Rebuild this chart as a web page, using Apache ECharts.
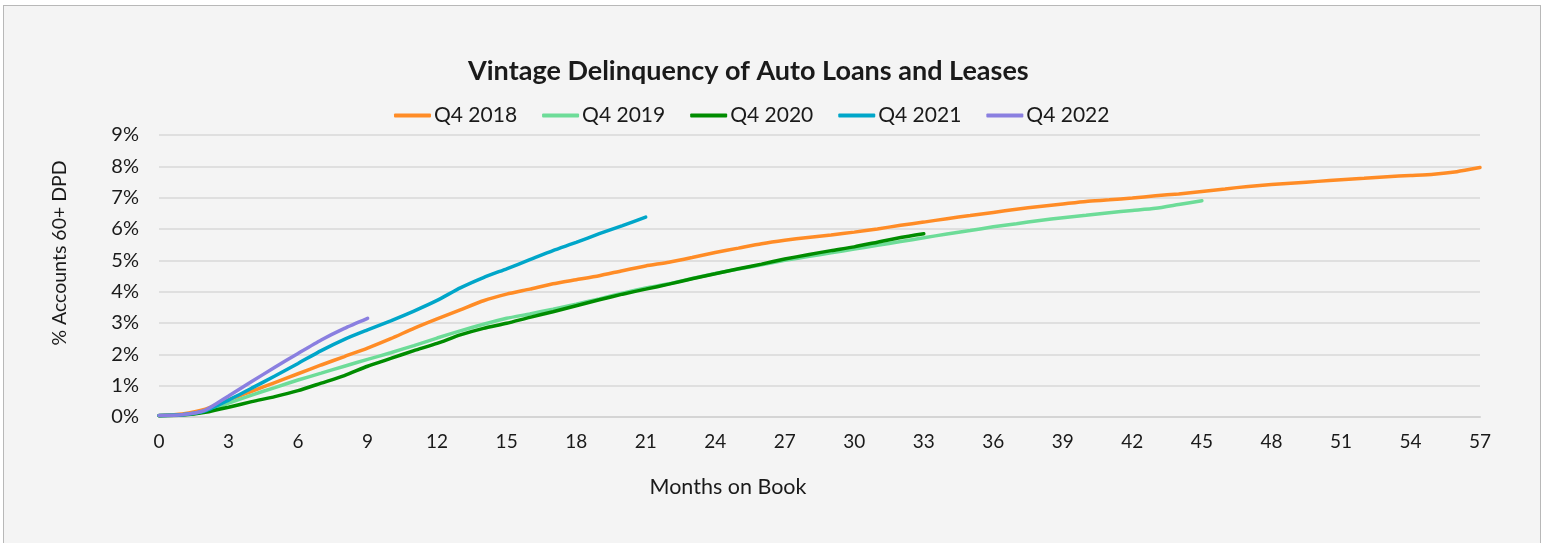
<!DOCTYPE html>
<html>
<head>
<meta charset="utf-8">
<script src="https://cdn.jsdelivr.net/npm/echarts@6/dist/echarts.min.js"></script>
<style>
  html, body { margin: 0; padding: 0; background: #ffffff; }
  #frame { position: absolute; left: 3px; top: 5px; width: 1538px; height: 545px; border: 1px solid #b8b8b8; background: #f4f4f4; box-sizing: border-box; }
  #chart { position: absolute; left: 0; top: 0; width: 1546px; height: 543px; }
</style>
</head>
<body>
<div id="frame"></div>
<div id="chart"></div>
<script>
const titleText = "Vintage Delinquency of Auto Loans and Leases";
const yAxisTitle = "% Accounts 60+ DPD";
const xAxisTitle = "Months on Book";
const seriesNames = ["Q4 2018", "Q4 2019", "Q4 2020", "Q4 2021", "Q4 2022"];
const seriesColors = ["#FF8C26", "#6DDC98", "#008C00", "#00A6C9", "#8A7FE0"];

// Values in % by month on book (index = month)
const q4_2018 = [0.05, 0.10, 0.25, 0.55, 0.82, 1.10, 1.38, 1.66, 1.93, 2.20, 2.50, 2.83, 3.13, 3.42, 3.71, 3.92, 4.08, 4.25, 4.38, 4.51, 4.67, 4.82, 4.94, 5.09, 5.25, 5.39, 5.53, 5.64, 5.73, 5.81, 5.90, 6.00, 6.12, 6.22, 6.33, 6.43, 6.53, 6.63, 6.72, 6.80, 6.88, 6.93, 6.99, 7.06, 7.12, 7.20, 7.28, 7.36, 7.42, 7.47, 7.52, 7.57, 7.62, 7.67, 7.71, 7.75, 7.83, 7.96];
const q4_2019 = [0.05, 0.07, 0.18, 0.44, 0.70, 0.94, 1.18, 1.40, 1.62, 1.84, 2.05, 2.28, 2.52, 2.75, 2.96, 3.15, 3.29, 3.44, 3.60, 3.77, 3.95, 4.12, 4.25, 4.42, 4.58, 4.72, 4.86, 5.00, 5.12, 5.24, 5.36, 5.48, 5.60, 5.72, 5.84, 5.95, 6.07, 6.17, 6.27, 6.36, 6.44, 6.52, 6.59, 6.66, 6.78, 6.90];
const q4_2020 = [0.04, 0.06, 0.15, 0.31, 0.49, 0.65, 0.84, 1.08, 1.32, 1.62, 1.87, 2.12, 2.35, 2.62, 2.83, 2.99, 3.18, 3.36, 3.55, 3.74, 3.92, 4.08, 4.24, 4.41, 4.57, 4.73, 4.88, 5.04, 5.18, 5.31, 5.43, 5.58, 5.73, 5.85];
const q4_2021 = [0.05, 0.07, 0.20, 0.54, 0.92, 1.31, 1.71, 2.12, 2.48, 2.78, 3.07, 3.38, 3.72, 4.12, 4.45, 4.73, 5.02, 5.31, 5.57, 5.85, 6.11, 6.38];
const q4_2022 = [0.05, 0.07, 0.22, 0.67, 1.13, 1.59, 2.03, 2.46, 2.83, 3.15];

const allSeries = [q4_2018, q4_2019, q4_2020, q4_2021, q4_2022];
const FONT = "Lato, 'Noto Sans', sans-serif";
const TEXT = "#1a1a1a";

const chart = echarts.init(document.getElementById('chart'), null, { renderer: 'canvas' });
chart.setOption({
  backgroundColor: 'transparent',
  animation: false,
  title: {
    text: titleText, left: 463, top: 53,
    textStyle: { fontFamily: FONT, fontSize: 27, fontWeight: 'bold', color: TEXT }
  },
  legend: {
    top: 100, left: 389,
    data: seriesNames,
    icon: 'roundRect', itemWidth: 37, itemHeight: 4, itemGap: 25,
    textStyle: { fontFamily: FONT, fontSize: 21, color: TEXT, padding: [0, 0, 0, -2] }
  },
  grid: { left: 159, right: 66, top: 135, bottom: 126, containLabel: false },
  xAxis: {
    type: 'value', min: 0, max: 57, interval: 3,
    axisLine: { show: true, lineStyle: { color: '#d4d4d4', width: 2 } },
    axisTick: { show: false },
    splitLine: { show: false },
    axisLabel: { fontFamily: FONT, fontSize: 19, color: TEXT, margin: 15 }
  },
  yAxis: {
    type: 'value', min: 0, max: 9, interval: 1,
    axisLine: { show: false }, axisTick: { show: false },
    splitLine: { lineStyle: { color: '#d9d9d9', width: 1.5 } },
    axisLabel: { fontFamily: FONT, fontSize: 20, color: TEXT, margin: 20, formatter: '{value}%' }
  },
  graphic: [
    { type: 'text', x: 60, y: 253, rotation: Math.PI / 2,
      style: { text: yAxisTitle, fontFamily: FONT, fontSize: 19.5, fill: TEXT, align: 'center', verticalAlign: 'middle' } },
    { type: 'text', x: 728, y: 487,
      style: { text: xAxisTitle, fontFamily: FONT, fontSize: 21.5, fill: TEXT, align: 'center', verticalAlign: 'middle' } }
  ],
  series: allSeries.map((arr, i) => ({
    name: seriesNames[i],
    type: 'line',
    data: arr.map((v, m) => [m, v]),
    showSymbol: false, symbol: 'none',
    smooth: 0.2,
    color: seriesColors[i],
    lineStyle: { width: 3.5, color: seriesColors[i], cap: 'round' }
  }))
});
</script>
</body>
</html>
